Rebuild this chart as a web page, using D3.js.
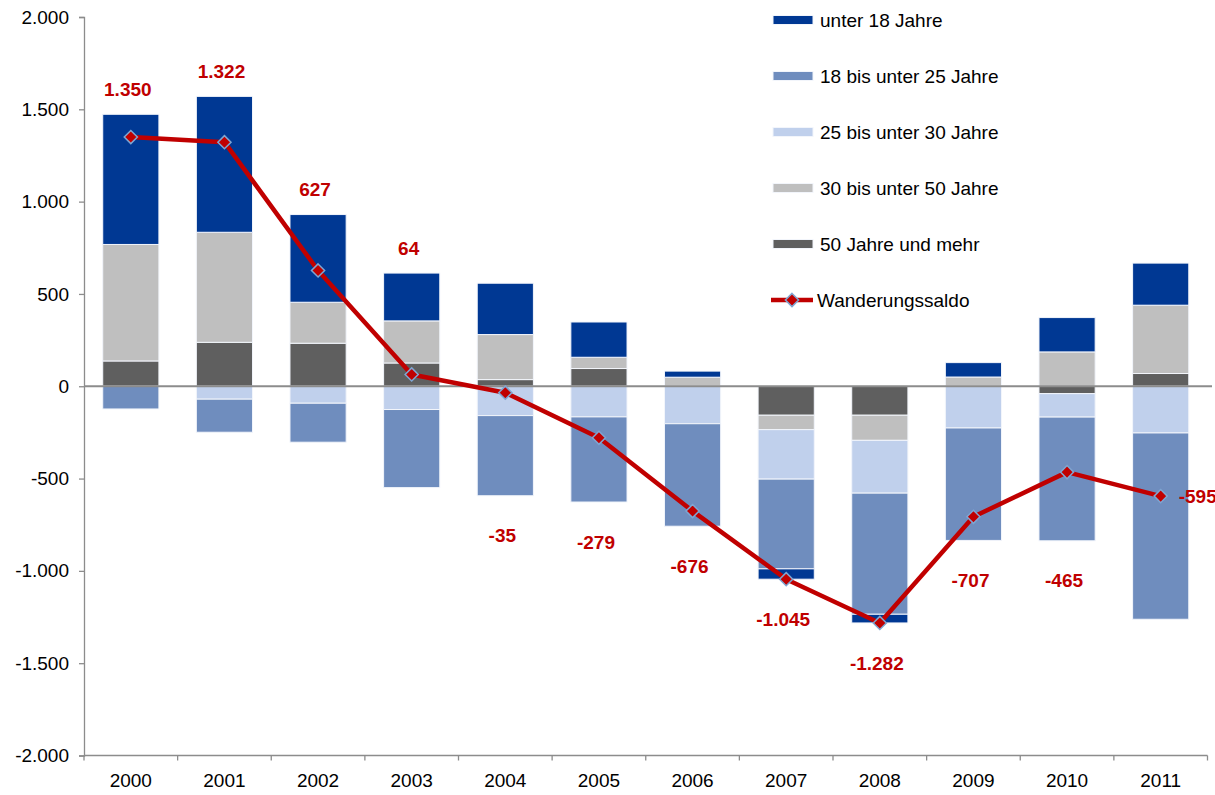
<!DOCTYPE html>
<html>
<head>
<meta charset="utf-8">
<script src="https://cdn.jsdelivr.net/npm/d3@7"></script>
<style>
  body { margin: 0; background: #fff; }
  svg text { font-family: "Liberation Sans", Arial, sans-serif; }
</style>
</head>
<body>
<svg width="1215" height="795"></svg>
<script>
const svg = d3.select('svg');
const width = +svg.attr('width');
const height = +svg.attr('height');

// data
const years = ['2000','2001','2002','2003','2004','2005','2006','2007','2008','2009','2010','2011'];
const under18   = [705, 736, 475, 259, 278, 191, 33, -56, -47, 78, 186, 228];
const age18to25 = [-123, -179, -211, -423, -434, -461, -555, -486, -656, -609, -670, -1009];
const age25to30 = [0, -70, -92, -126, -159, -166, -203, -268, -286, -226, -127, -253];
const age30to50 = [631, 596, 222, 228, 244, 61, 49, -78, -136, 50, 186, 370];
const age50plus = [137, 238, 233, 126, 36, 96, 0, -157, -157, 0, -40, 69];
const saldo     = [1350, 1322, 627, 64, -35, -279, -676, -1045, -1282, -707, -465, -595];
const yTicks = [-2000, -1500, -1000, -500, 0, 500, 1000, 1500, 2000];

const seriesNames = ['unter 18 Jahre','18 bis unter 25 Jahre','25 bis unter 30 Jahre','30 bis unter 50 Jahre','50 Jahre und mehr'];
const colors = ['#003893','#6f8dbe','#c0d0ec','#bfbfbf','#5f5f5f'];
const lineName = 'Wanderungssaldo';

// table for the stack
const table = years.map((y,i)=>({
  year: y,
  s0: under18[i], s1: age18to25[i], s2: age25to30[i], s3: age30to50[i], s4: age50plus[i]
}));
// stacked from zero outward: 50+ first, under 18 last
const stackKeys = ['s4','s3','s2','s1','s0'];
const colorOf = {s0: colors[0], s1: colors[1], s2: colors[2], s3: colors[3], s4: colors[4]};

const stack = d3.stack().keys(stackKeys).offset(d3.stackOffsetDiverging);
const layers = stack(table);

const margin = {left: 84, right: 8, top: 17, bottom: 40};

const x = d3.scaleBand()
  .domain(years)
  .range([margin.left, 1207.5])
  .paddingInner(0.4)
  .paddingOuter(0.2);
const xc = d => x(d) + x.bandwidth()/2;

const y = d3.scaleLinear()
  .domain([-2000, 2000])
  .range([755.5, margin.top]);

const loc = d3.formatLocale({decimal: ',', thousands: '.', grouping: [3], currency: ['', '€'], minus: '-'});
const fmt = loc.format(',d');

// bars
svg.append('g').selectAll('g')
  .data(layers)
  .join('g')
  .attr('fill', d => colorOf[d.key])
  .selectAll('rect')
  .data(d => d)
  .join('rect')
  .attr('x', d => x(d.data.year))
  .attr('width', x.bandwidth())
  .attr('y', d => y(Math.max(d[0], d[1])))
  .attr('height', d => Math.abs(y(d[0]) - y(d[1])))
  .attr('stroke', '#f2f5fb')
  .attr('stroke-width', 1);

// y axis
const yAxis = d3.axisLeft(y)
  .tickValues(yTicks)
  .tickSize(5)
  .tickPadding(10)
  .tickFormat(fmt);
const gy = svg.append('g')
  .attr('transform', `translate(${margin.left},0)`)
  .call(yAxis);
gy.select('.domain').attr('stroke', '#8c8c8c').attr('stroke-width', 1.3);
gy.selectAll('.tick line').attr('stroke', '#8c8c8c').attr('stroke-width', 1.3);
gy.selectAll('.tick text').attr('font-size', 19).attr('fill', '#000')
  .style('font-family', '"Liberation Sans", Arial, sans-serif');

// zero line
svg.append('line')
  .attr('x1', margin.left).attr('x2', 1212)
  .attr('y1', y(0)).attr('y2', y(0))
  .attr('stroke', '#8c8c8c').attr('stroke-width', 2);

// x axis at bottom, ticks between categories
const gx = svg.append('g')
  .attr('transform', `translate(0,${y(-2000)})`);
gx.append('line')
  .attr('x1', margin.left).attr('x2', 1207.5)
  .attr('stroke', '#8c8c8c').attr('stroke-width', 1.3);
const step = x.step();
const edges = d3.range(years.length + 1).map(i => x(years[0]) - x.paddingOuter()*step + i*step);
gx.selectAll('.tk')
  .data(edges)
  .join('line')
  .attr('x1', d => d).attr('x2', d => d)
  .attr('y1', 0).attr('y2', 5)
  .attr('stroke', '#8c8c8c').attr('stroke-width', 1.3);
gx.selectAll('text')
  .data(years)
  .join('text')
  .attr('x', d => xc(d))
  .attr('y', 31)
  .attr('text-anchor', 'middle')
  .attr('font-size', 19)
  .text(d => d);

// saldo line
const line = d3.line()
  .x((d,i) => xc(years[i]))
  .y(d => y(d));
svg.append('path')
  .datum(saldo)
  .attr('d', line)
  .attr('fill', 'none')
  .attr('stroke', '#c00000')
  .attr('stroke-width', 4.5)
  .attr('stroke-linejoin', 'round');

const diamond = d3.symbol().type(d3.symbolDiamond2).size(110);
svg.append('g').selectAll('path')
  .data(saldo)
  .join('path')
  .attr('d', diamond)
  .attr('transform', (d,i) => `translate(${xc(years[i])},${y(d)})`)
  .attr('fill', '#c00000')
  .attr('stroke', '#7ea6d2')
  .attr('stroke-width', 1.5);

// data labels: above the positive stack, below the negative stack, last one to the right
const posTop = years.map((yr,i) => d3.sum([under18[i],age18to25[i],age25to30[i],age30to50[i],age50plus[i]].filter(v=>v>0)));
const negBot = years.map((yr,i) => d3.sum([under18[i],age18to25[i],age25to30[i],age30to50[i],age50plus[i]].filter(v=>v<0)));
svg.append('g').selectAll('text')
  .data(saldo)
  .join('text')
  .attr('x', (d,i) => i === saldo.length-1 ? xc(years[i]) + 18 : xc(years[i]) - 3)
  .attr('y', (d,i) => {
    if (i === saldo.length-1) return y(d);
    return d > 0 ? y(posTop[i]) - 25 : y(negBot[i]) + 40;
  })
  .attr('dy', '0.35em')
  .attr('text-anchor', (d,i) => i === saldo.length-1 ? 'start' : 'middle')
  .attr('font-size', 19)
  .attr('font-weight', 'bold')
  .attr('fill', '#c00000')
  .text(d => fmt(d));

// legend
const legend = svg.append('g').attr('transform', 'translate(773,20)');
const rowH = 56;
const items = legend.selectAll('g')
  .data(seriesNames)
  .join('g')
  .attr('transform', (d,i) => `translate(0,${i*rowH})`);
items.append('rect')
  .attr('x', 0).attr('y', -4.5)
  .attr('width', 40).attr('height', 9)
  .attr('fill', (d,i) => colors[i])
  .attr('stroke', '#f2f5fb').attr('stroke-width', 1);
items.append('text')
  .attr('x', 47).attr('y', 0).attr('dy', '0.35em')
  .attr('font-size', 19)
  .text(d => d);

const lg = legend.append('g').attr('transform', `translate(0,${seriesNames.length*rowH})`);
lg.append('line')
  .attr('x1', -2).attr('x2', 40)
  .attr('stroke', '#c00000').attr('stroke-width', 4.5);
lg.append('path')
  .attr('d', diamond)
  .attr('transform', 'translate(19,0)')
  .attr('fill', '#c00000')
  .attr('stroke', '#7ea6d2')
  .attr('stroke-width', 1.5);
lg.append('text')
  .attr('x', 44).attr('y', 0).attr('dy', '0.35em')
  .attr('font-size', 19)
  .text(lineName);
</script>
</body>
</html>
